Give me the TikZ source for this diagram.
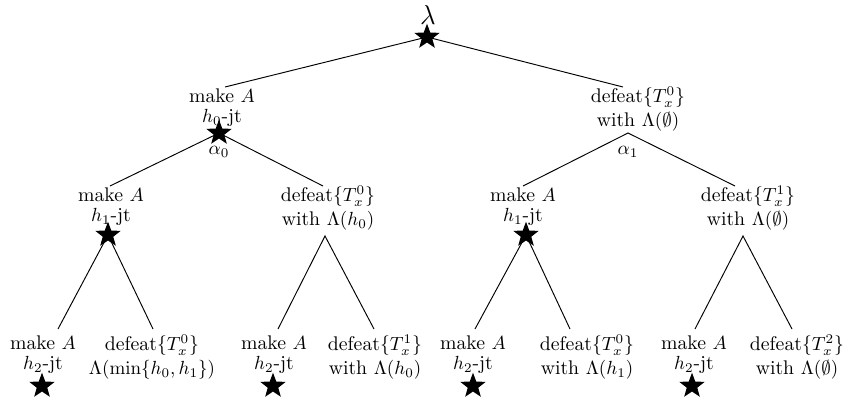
\documentclass[tikz,border=0pt]{standalone}
\usepackage{amssymb}
\usetikzlibrary{shapes.geometric}
\begin{document}
\begin{tikzpicture}[x=0.5263pt,y=-0.5263pt,
  lbl/.style={align=center, inner sep=0pt, font=\fontsize{10.4pt}{12.6pt}\selectfont},
  mk/.style={lbl},
  starnode/.style={star, star points=5, star point ratio=2.4, fill=black,
                   draw=none, inner sep=0pt, minimum size=14pt},
  branch/.style={draw=black, line width=0.5pt}]
\useasboundingbox (0,0) rectangle (851,403);

% ---- root ----
\node (lam) at (428,15) {\Large$\lambda$};
\coordinate (r) at (427,37);

% ---- level 1 ----
\node[mk] (n0) at (222,108) {make $A$\\[-2pt]$h_0$-jt};
\coordinate (n0t) at (225,87);
\coordinate (n0a) at (219,133);
\node[lbl] (a0) at (219,152) {$\alpha_0$};

\node[lbl] (n1) at (638,109) {defeat\{$T^0_x$\}\\with $\Lambda(\emptyset)$};
\coordinate (n1t) at (623,87);
\coordinate (n1a) at (628,133);
\node[lbl] (a1) at (628,152) {$\alpha_1$};

% ---- level 2 ----
\node[mk] (n00) at (111,207) {make $A$\\[-2pt]$h_1$-jt};
\coordinate (n00t) at (110,186);
\coordinate (n00a) at (108,235);

\node[lbl] (n01) at (328,208) {defeat\{$T^0_x$\}\\with $\Lambda(h_0)$};
\coordinate (n01t) at (323,186);
\coordinate (n01a) at (325,236);

\node[mk] (n10) at (523,207) {make $A$\\[-2pt]$h_1$-jt};
\coordinate (n10t) at (523,186);
\coordinate (n10a) at (526,235);

\node[lbl] (n11) at (748,208) {defeat\{$T^1_x$\}\\with $\Lambda(\emptyset)$};
\coordinate (n11t) at (735,186);
\coordinate (n11a) at (743,236);

% ---- leaves ----
\node[mk]  (l1) at (43,355)  {make $A$\\[-2pt]$h_2$-jt};
\node[lbl] (l2) at (152,357) {defeat\{$T^0_x$\}\\$\Lambda(\min\{h_0,h_1\})$};
\node[mk]  (l3) at (274,355) {make $A$\\[-2pt]$h_2$-jt};
\node[lbl] (l4) at (375,357) {defeat\{$T^1_x$\}\\with $\Lambda(h_0)$};
\node[mk]  (l5) at (473,355) {make $A$\\[-2pt]$h_2$-jt};
\node[lbl] (l6) at (587,357) {defeat\{$T^0_x$\}\\with $\Lambda(h_1)$};
\node[mk]  (l7) at (694,355) {make $A$\\[-2pt]$h_2$-jt};
\node[lbl] (l8) at (797,357) {defeat\{$T^2_x$\}\\with $\Lambda(\emptyset)$};

\coordinate (l1t) at (58,329);
\coordinate (l2t) at (153,329);
\coordinate (l3t) at (278,329);
\coordinate (l4t) at (374,329);
\coordinate (l5t) at (475,329);
\coordinate (l6t) at (570,329);
\coordinate (l7t) at (695,329);
\coordinate (l8t) at (792,329);

% ---- branches ----
\path[branch] (n0t) -- (r) -- (n1t);
\path[branch] (n00t) -- (n0a) -- (n01t);
\path[branch] (n10t) -- (n1a) -- (n11t);
\path[branch] (l1t) -- (n00a) -- (l2t);
\path[branch] (l3t) -- (n01a) -- (l4t);
\path[branch] (l5t) -- (n10a) -- (l6t);
\path[branch] (l7t) -- (n11a) -- (l8t);

% ---- stars ----
\node[starnode] (sr)   at (r)    {};
\node[starnode] (s0)   at (n0a)  {};
\node[starnode] (s00)  at (n00a) {};
\node[starnode] (s10)  at (n10a) {};
\node[starnode] (sl1)  at (42,386)  {};
\node[starnode] (sl3)  at (273,386) {};
\node[starnode] (sl5)  at (473,386) {};
\node[starnode] (sl7)  at (692,386) {};
\end{tikzpicture}
\end{document}
